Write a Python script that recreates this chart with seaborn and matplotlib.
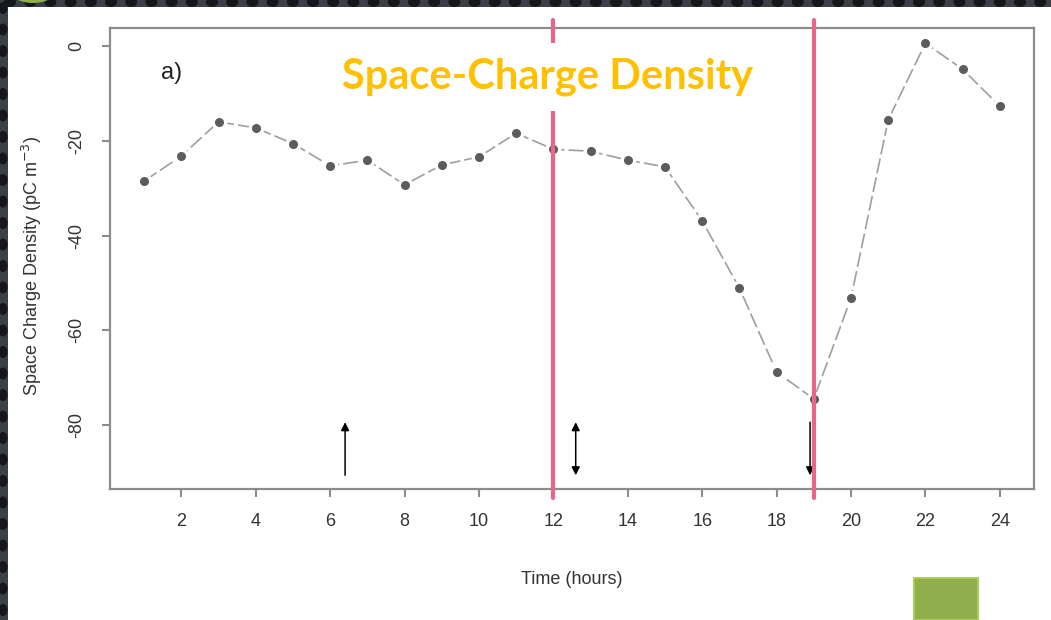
import numpy as np
import pandas as pd
import matplotlib
matplotlib.use("Agg")
import matplotlib.pyplot as plt
from matplotlib.patches import Rectangle, Ellipse
import seaborn as sns

# Hourly mean space-charge density
hours = list(range(1, 25))
density = [-28.5, -23.2, -16.0, -17.3, -20.6, -25.3, -24.1, -29.3,
           -25.1, -23.4, -18.4, -21.8, -22.2, -24.1, -25.5, -36.9,
           -51.1, -68.8, -74.5, -53.2, -15.6, 0.6, -4.9, -12.7]

x_ticks = list(range(2, 25, 2))
y_ticks = [0, -20, -40, -60, -80]

# Event markers (hour) and highlighted hours
up_arrow_hour = 6.4
both_arrow_hour = 12.6
down_arrow_hour = 18.9
arrow_low, arrow_high = -90.6, -79.4
highlight_hours = [12, 19]

df = pd.DataFrame({"hour": hours, "density": density})

sns.set_theme(style="white")
plt.rcParams["font.family"] = ["Liberation Sans", "DejaVu Sans"]

W, H = 1051, 620
fig = plt.figure(figsize=(W / 100, H / 100), dpi=100, facecolor="white")

# Slide frame: dark dotted strips on the top and left edges
frame_col = "#3b4048"
dot_col = "#15171b"
fig.patches.append(Rectangle((0, 1 - 7 / H), 1, 7 / H, transform=fig.transFigure,
                             facecolor=frame_col, edgecolor="none", zorder=0))
fig.patches.append(Rectangle((0, 0), 8 / W, 1, transform=fig.transFigure,
                             facecolor=frame_col, edgecolor="none", zorder=0))
for px in np.arange(10, W, 20.2):
    fig.patches.append(Ellipse((px / W, 1 - 2 / H), 12 / W, 10 / H, transform=fig.transFigure,
                               facecolor=dot_col, edgecolor="none", zorder=1))
for py in np.arange(8, H, 21.5):
    fig.patches.append(Ellipse((3 / W, 1 - py / H), 9 / W, 12 / H, transform=fig.transFigure,
                               facecolor=dot_col, edgecolor="none", zorder=1))
fig.patches.append(Ellipse((33 / W, 1 + 12 / H), 50 / W, 30 / H, transform=fig.transFigure,
                           facecolor="#8db04a", edgecolor="none", zorder=2))

# Green square in the lower right corner
fig.patches.append(Rectangle((914 / W, 0), 64 / W, 42 / H, transform=fig.transFigure,
                             facecolor="#8fae4c", edgecolor="#a9cc5a", linewidth=1.5, zorder=2))

ax_l, ax_r, ax_t, ax_b = 110, 1034, 28, 489
ax = fig.add_axes([ax_l / W, 1 - ax_b / H, (ax_r - ax_l) / W, (ax_b - ax_t) / H])
ax.set_facecolor("white")

sns.lineplot(data=df, x="hour", y="density", ax=ax, color="#9e9e9e", linewidth=1.2,
             dashes=False, zorder=2)
ax.lines[-1].set_dashes((9, 2.5))
sns.scatterplot(data=df, x="hour", y="density", ax=ax, color="#5c5c5c", s=80,
                edgecolor="white", linewidth=2.4, zorder=3)

ax.set_xlim(0.08, 24.92)
ax.set_ylim(-93.5, 3.8)
ax.set_xticks(x_ticks)
ax.set_yticks(y_ticks)
ax.set_xticklabels([str(v) for v in x_ticks])
ax.set_yticklabels([str(v) for v in y_ticks], rotation=90, va="center")

for s in ax.spines.values():
    s.set_color("#8c8c8c")
    s.set_linewidth(1.6)
ax.tick_params(axis="both", which="major", direction="out", length=6, width=1.5,
               color="#8c8c8c", labelsize=13, labelcolor="#333333")
ax.tick_params(axis="x", pad=11, bottom=True)
ax.tick_params(axis="y", pad=12, left=True)

ax.set_xlabel("Time (hours)", fontsize=13, color="#333333")
ax.set_ylabel(r"Space Charge Density (pC m$^{-3}$)", fontsize=13, color="#333333")
ax.xaxis.set_label_coords(0.5, (ax_b - 580) / (ax_b - ax_t), transform=ax.transAxes)
ax.xaxis.label.set_va("center")
ax.yaxis.set_label_coords((32 - ax_l) / (ax_r - ax_l), (ax_b - 266) / (ax_b - ax_t),
                          transform=ax.transAxes)
ax.yaxis.label.set_va("center")

ax.text(0.055, 0.903, "a)", transform=ax.transAxes, fontsize=17, color="#222222",
        ha="left", va="center")

# Event arrows
akw = dict(color="black", lw=1.1, shrinkA=0, shrinkB=0, mutation_scale=12)
ax.annotate("", xy=(up_arrow_hour, arrow_high), xytext=(up_arrow_hour, arrow_low),
            arrowprops=dict(arrowstyle="-|>", **akw))
ax.annotate("", xy=(both_arrow_hour, arrow_high), xytext=(both_arrow_hour, arrow_low),
            arrowprops=dict(arrowstyle="<|-|>", **akw))
ax.annotate("", xy=(down_arrow_hour, arrow_low), xytext=(down_arrow_hour, arrow_high),
            arrowprops=dict(arrowstyle="-|>", **akw))

# Highlighted hours
for h in highlight_hours:
    ax.axvline(h, ymin=-(498 - ax_b) / (ax_b - ax_t), ymax=1 + (ax_t - 20) / (ax_b - ax_t),
               color="#e8668a", linewidth=3, clip_on=False, zorder=4)

fig.text(548 / W, 1 - 77 / H, "Space-Charge Density", fontsize=30, fontweight="bold",
         color="#ffc000", family=["Lato", "DejaVu Sans"], ha="center", va="center", zorder=10,
         bbox=dict(boxstyle="square,pad=0.36", facecolor="white", edgecolor="none"))

fig.savefig("out.png", dpi=100, facecolor="white")
